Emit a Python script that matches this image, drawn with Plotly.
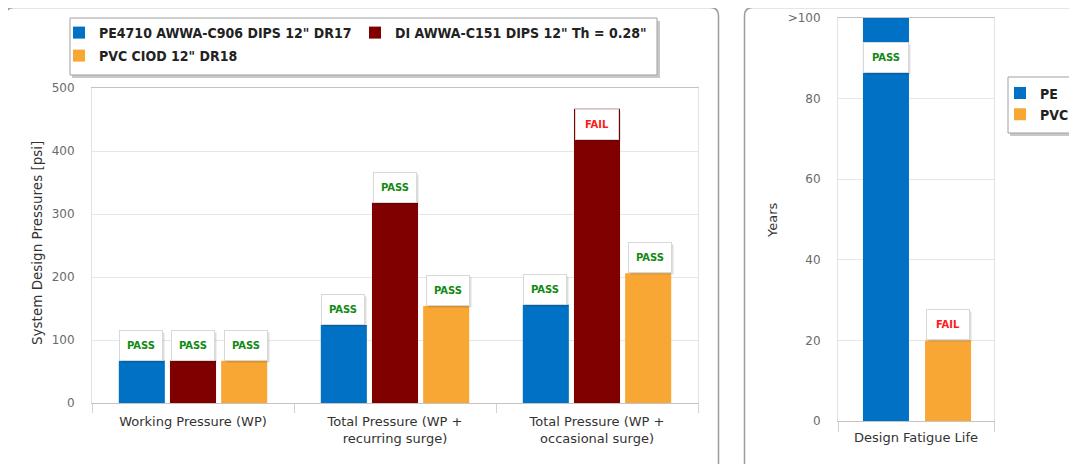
import plotly.graph_objects as go

# page body has an 8px margin, so the figure is drawn 8px in from the window corner
OFF = 8
W, H = 1077 - OFF, 464 - OFF

# ---- data ----
categories = ["Working Pressure (WP)",
              "Total Pressure (WP +<br>recurring surge)",
              "Total Pressure (WP +<br>occasional surge)"]
pe_psi = [67, 124, 156]
di_psi = [67, 318, 467]
pvc_psi = [67, 154, 206]
pe_status = ["PASS", "PASS", "PASS"]
di_status = ["PASS", "PASS", "FAIL"]
pvc_status = ["PASS", "PASS", "PASS"]

fatigue_cat = ["Design Fatigue Life"]
pe_years = [100]
pvc_years = [20]
fatigue_status = ["PASS", "FAIL"]
year_ticks = [0, 20, 40, 60, 80, 100]
year_labels = ["0", "20", "40", "60", "80", ">100"]

names = ["PE4710 AWWA-C906 DIPS 12\" DR17",
         "DI AWWA-C151 DIPS 12\" Th = 0.28\"",
         "PVC CIOD 12\" DR18"]
BLUE, RED, ORANGE = "#0071C5", "#800000", "#F8A634"


def px(x):
    return (x - OFF) / W


def py(y):
    return 1 - (y - OFF) / H


def path(pts):
    # pts: list of (cmd, x, y, ...) in window pixels -> paper coords
    out = []
    for p in pts:
        nums = p[1:]
        conv = [f"{px(nums[i]):.5f},{py(nums[i + 1]):.5f}" for i in range(0, len(nums), 2)]
        out.append(p[0] + " " + " ".join(conv))
    return " ".join(out)


fig = go.Figure()

# left chart
for vals, nm, col, lg in [(pe_psi, names[0], BLUE, "legend"),
                          (di_psi, names[1], RED, "legend2"),
                          (pvc_psi, names[2], ORANGE, "legend3")]:
    fig.add_trace(go.Bar(x=categories, y=vals, name=nm, marker_color=col,
                         marker_line_width=0, xaxis="x", yaxis="y", legend=lg))

# right chart
fig.add_trace(go.Bar(x=fatigue_cat, y=pe_years, name="PE", marker_color=BLUE,
                     marker_line_width=0, width=0.295, offset=-0.34,
                     xaxis="x2", yaxis="y2", legend="legend4"))
fig.add_trace(go.Bar(x=fatigue_cat, y=pvc_years, name="PVC", marker_color=ORANGE,
                     marker_line_width=0, width=0.295, offset=0.058,
                     xaxis="x2", yaxis="y2", legend="legend4"))

# PASS / FAIL labels
annotations = []


def status_label(xref, yref, x, y, text, xshift, inside=False, yshift=0, w=34):
    col = "#128A12" if text == "PASS" else "#FF1A1A"
    anchor = "top" if inside else "bottom"
    common = dict(xref=xref, yref=yref, x=x, y=y, yanchor=anchor, showarrow=False,
                  width=w, height=21, borderpad=4, borderwidth=1)
    # soft shadow
    annotations.append(dict(common, text=" ", xshift=xshift + 2, yshift=yshift - 2,
                            bgcolor="rgba(0,0,0,0.13)", bordercolor="rgba(0,0,0,0)",
                            font=dict(family="DejaVu Sans", size=10)))
    annotations.append(dict(common, text="<b>" + text + "</b>", xshift=xshift, yshift=yshift,
                            bgcolor="white", bordercolor="#d8d8d8",
                            font=dict(family="DejaVu Sans", size=10, color=col)))


for vals, stats, shift in [(pe_psi, pe_status, -52), (di_psi, di_status, 0),
                           (pvc_psi, pvc_status, 53)]:
    for c, v, s in zip(categories, vals, stats):
        status_label("x", "y", c, v, s, shift, inside=(v > 430))

status_label("x2", "y2", fatigue_cat[0], pe_years[0], fatigue_status[0], -30,
             inside=True, yshift=-24, w=36)
status_label("x2", "y2", fatigue_cat[0], pvc_years[0], fatigue_status[1], 32)

# axis titles
annotations.append(dict(xref="paper", yref="paper", x=px(37), y=py(243),
                        xanchor="center", yanchor="middle",
                        text="System Design Pressures [psi]", textangle=-90,
                        showarrow=False, font=dict(family="DejaVu Sans", size=13.5, color="#333")))
annotations.append(dict(xref="paper", yref="paper", x=px(772), y=py(220),
                        xanchor="center", yanchor="middle",
                        text="Years", textangle=-90,
                        showarrow=False, font=dict(family="DejaVu Sans", size=13, color="#333")))

shapes = [
    # panel borders
    dict(type="path", xref="paper", yref="paper", layer="below",
         path=path([("M", 5.5, 470), ("L", 5.5, 16), ("Q", 5.5, 7.5, 14, 7.5),
                    ("L", 710, 7.5), ("Q", 718.5, 7.5, 718.5, 16), ("L", 718.5, 470)]),
         line=dict(color="#9c9c9c", width=1.5)),
    dict(type="path", xref="paper", yref="paper", layer="below",
         path=path([("M", 744.5, 470), ("L", 744.5, 16), ("Q", 744.5, 7.5, 753, 7.5),
                    ("L", 1085, 7.5)]),
         line=dict(color="#9c9c9c", width=1.5)),
    # legend boxes with shadow
    dict(type="rect", xref="paper", yref="paper", layer="below",
         x0=px(72), x1=px(660), y0=py(21), y1=py(78),
         fillcolor="#c8c8c8", line_width=0),
    dict(type="rect", xref="paper", yref="paper", layer="below",
         x0=px(70), x1=px(657), y0=py(18), y1=py(75),
         fillcolor="white", line=dict(color="#a0a0a0", width=1)),
    dict(type="rect", xref="paper", yref="paper", layer="below",
         x0=px(1010), x1=px(1090), y0=py(79), y1=py(136),
         fillcolor="#c8c8c8", line_width=0),
    dict(type="rect", xref="paper", yref="paper", layer="below",
         x0=px(1008), x1=px(1090), y0=py(77), y1=py(133),
         fillcolor="white", line=dict(color="#a0a0a0", width=1)),
]

tick_font = dict(family="DejaVu Sans", size=12, color="#6a6a6a")
cat_font = dict(family="DejaVu Sans", size=13, color="#333")
leg_font = dict(family="Liberation Sans Narrow, DejaVu Sans Condensed, sans-serif",
                size=14, color="#222", weight="bold")
leg_common = dict(bgcolor="rgba(0,0,0,0)", borderwidth=0, font=leg_font,
                  xanchor="left", yanchor="middle", orientation="h")

fig.update_layout(
    width=W, height=H,
    margin=dict(l=0, r=0, t=0, b=0),
    paper_bgcolor="white", plot_bgcolor="white",
    barmode="group", bargap=0.24, bargroupgap=0.1,
    xaxis=dict(domain=[px(92), px(698)], anchor="y", type="category",
               showline=True, linecolor="#c4c4c4", mirror=True,
               ticks="outside", tickson="boundaries", ticklen=9, tickcolor="#c9d4df",
               ticklabelstandoff=6, tickfont=cat_font, automargin=False),
    yaxis=dict(domain=[py(403), py(88)], anchor="x", range=[0, 500], dtick=100,
               showline=True, linecolor="#e2e2e2", mirror=True,
               gridcolor="#e6e6e6", zeroline=False, ticklabelstandoff=14,
               tickfont=tick_font, automargin=False),
    xaxis2=dict(domain=[px(838), px(994)], anchor="y2", type="category",
                showline=True, linecolor="#c4c4c4", mirror=True,
                ticks="outside", tickson="boundaries", ticklen=10, tickcolor="#c9d4df",
                ticklabelstandoff=4, tickfont=cat_font, automargin=False),
    yaxis2=dict(domain=[py(421), py(18)], anchor="x2", range=[0, 100],
                tickvals=year_ticks, ticktext=year_labels,
                showline=True, linecolor="#e2e2e2", mirror=True,
                gridcolor="#e6e6e6", zeroline=False, ticklabelstandoff=14,
                tickfont=tick_font, automargin=False),
    legend=dict(leg_common, x=px(59), y=py(33)),
    legend2=dict(leg_common, x=px(355), y=py(33)),
    legend3=dict(leg_common, x=px(59), y=py(56)),
    legend4=dict(leg_common, orientation="v", x=px(1000), y=py(104), tracegroupgap=0),
    annotations=annotations,
    shapes=shapes,
    showlegend=True,
)

fig.write_html("out.html")
